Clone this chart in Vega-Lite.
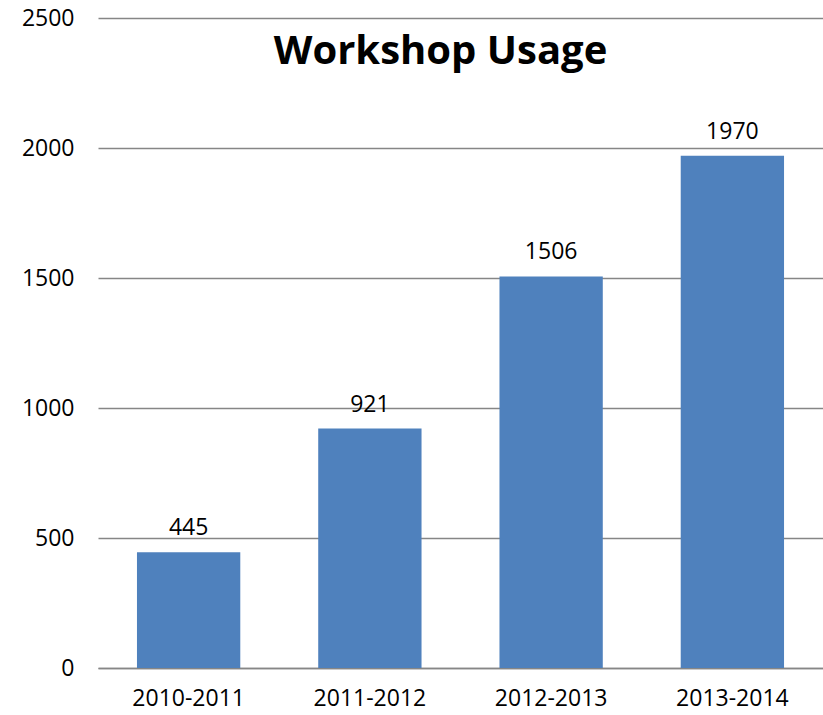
{
  "$schema": "https://vega.github.io/schema/vega-lite/v6.json",
  "autosize": {"type": "none"},
  "width": 725,
  "height": 650,
  "padding": {"left": 98, "top": 18, "right": 0, "bottom": 47},
  "background": "white",
  "title": {
    "text": "Workshop Usage",
    "font": "Open Sans",
    "fontSize": 40,
    "fontWeight": "bold",
    "color": "black",
    "anchor": "middle",
    "orient": "top",
    "baseline": "alphabetic",
    "offset": -97,
    "dx": -20
  },
  "data": {
    "values": [
      {"year": "2010-2011", "usage": 445},
      {"year": "2011-2012", "usage": 921},
      {"year": "2012-2013", "usage": 1506},
      {"year": "2013-2014", "usage": 1970}
    ]
  },
  "encoding": {
    "x": {
      "field": "year",
      "type": "nominal",
      "sort": null,
      "scale": {"paddingInner": 0.43, "paddingOuter": 0.215},
      "axis": {
        "title": null,
        "labelAngle": 0,
        "labelFont": "Open Sans",
        "labelFontSize": 23,
        "labelColor": "black",
        "labelPadding": 19,
        "ticks": false,
        "domainColor": "#868686",
        "domainWidth": 1.5
      }
    },
    "y": {
      "field": "usage",
      "type": "quantitative",
      "scale": {"domain": [0, 2500]},
      "axis": {
        "title": null,
        "values": [0, 500, 1000, 1500, 2000, 2500],
        "format": "d",
        "labelFont": "Open Sans",
        "labelFontSize": 23,
        "labelColor": "black",
        "labelPadding": 24,
        "ticks": false,
        "domain": false,
        "gridColor": "#868686",
        "gridWidth": 1.5
      }
    }
  },
  "layer": [
    {"mark": {"type": "bar", "color": "#4F81BD"}},
    {
      "mark": {"type": "text", "font": "Open Sans", "fontSize": 23, "color": "black", "baseline": "alphabetic", "dy": -17},
      "encoding": {"text": {"field": "usage", "type": "quantitative", "format": "d"}}
    }
  ],
  "config": {"view": {"stroke": null}}
}
